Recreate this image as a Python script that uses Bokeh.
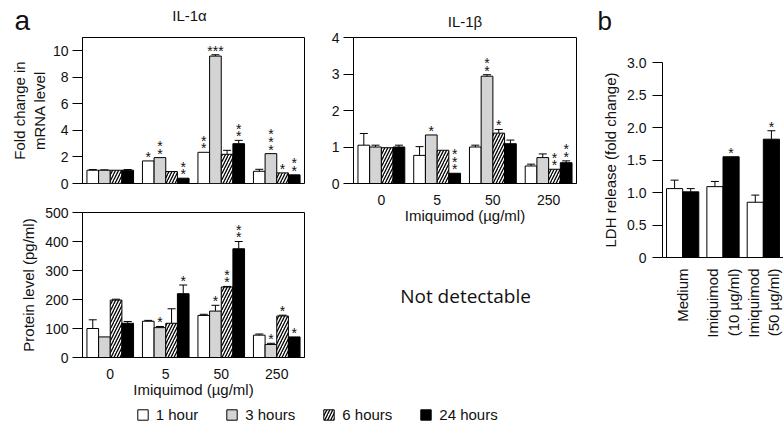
from bokeh.plotting import figure
from bokeh.layouts import row, column
from bokeh.models import (ColumnDataSource, FactorRange, Range1d, Whisker, TeeHead,
                          Label, Legend, LegendItem, FixedTicker, NumeralTickFormatter)
from bokeh.transform import dodge
from bokeh.core.properties import value
from bokeh.embed import file_html
from bokeh.resources import INLINE

# ---------------- data ----------------
DOSES = ["0", "5", "50", "250"]
SERIES_A = ["1 hour", "3 hours", "6 hours", "24 hours"]

# IL-1alpha mRNA fold change
IL1A_MRNA = {
    "1 hour":   [1.0, 1.70, 2.35, 0.92],
    "3 hours":  [1.0, 1.95, 9.60, 2.25],
    "6 hours":  [1.0, 0.90, 2.20, 0.80],
    "24 hours": [1.0, 0.40, 3.00, 0.65],
}
IL1A_MRNA_ERR = {
    "1 hour":   [0.05, 0.0, 0.0, 0.15],
    "3 hours":  [0.03, 0.0, 0.10, 0.0],
    "6 hours":  [0.0, 0.0, 0.30, 0.0],
    "24 hours": [0.05, 0.0, 0.25, 0.0],
}
IL1A_MRNA_STARS = {
    "1 hour":   ["", "*", "*\n*", ""],
    "3 hours":  ["", "*\n*", "***", "*\n*\n*"],
    "6 hours":  ["", "", "", "*"],
    "24 hours": ["", "*\n*", "*\n*", "*\n*"],
}
IL1A_MRNA_TICKS = [0, 2, 4, 6, 8, 10]

# IL-1beta mRNA fold change
IL1B_MRNA = {
    "1 hour":   [1.05, 0.77, 1.00, 0.48],
    "3 hours":  [1.00, 1.33, 2.94, 0.71],
    "6 hours":  [0.98, 0.91, 1.38, 0.39],
    "24 hours": [1.00, 0.28, 1.09, 0.57],
}
IL1B_MRNA_ERR = {
    "1 hour":   [0.32, 0.24, 0.05, 0.05],
    "3 hours":  [0.05, 0.0, 0.04, 0.10],
    "6 hours":  [0.0, 0.0, 0.10, 0.0],
    "24 hours": [0.05, 0.0, 0.10, 0.05],
}
IL1B_MRNA_STARS = {
    "1 hour":   ["", "", "", ""],
    "3 hours":  ["", "*", "*\n*", ""],
    "6 hours":  ["", "", "*", "*\n*"],
    "24 hours": ["", "*\n*\n*", "", "*\n*"],
}
IL1B_MRNA_TICKS = [0, 1, 2, 3, 4]

# IL-1alpha protein (pg/ml)
IL1A_PROT = {
    "1 hour":   [100, 125, 145, 77],
    "3 hours":  [71, 103, 160, 45],
    "6 hours":  [198, 118, 243, 143],
    "24 hours": [118, 220, 375, 71],
}
IL1A_PROT_ERR = {
    "1 hour":   [30, 3, 4, 4],
    "3 hours":  [0, 4, 20, 4],
    "6 hours":  [3, 50, 2, 3],
    "24 hours": [6, 30, 25, 0],
}
IL1A_PROT_STARS = {
    "1 hour":   ["", "", "", ""],
    "3 hours":  ["", "*", "*", "*"],
    "6 hours":  ["", "", "*\n*", "*"],
    "24 hours": ["", "*", "*\n*", "*"],
}
IL1A_PROT_TICKS = [0, 100, 200, 300, 400, 500]

# LDH release (panel b)
LDH_GROUPS = ["Medium", "Imiquimod\n(10 µg/ml)", "Imiquimod\n(50 µg/ml)"]
SERIES_B = ["6 hours", "24 hours"]
LDH = {
    "6 hours":  [1.06, 1.09, 0.85],
    "24 hours": [1.01, 1.55, 1.82],
}
LDH_ERR = {
    "6 hours":  [0.13, 0.08, 0.11],
    "24 hours": [0.05, 0.0, 0.13],
}
LDH_STARS = {
    "6 hours":  ["", "", ""],
    "24 hours": ["", "*", "*"],
}
LDH_TICKS = [0, 0.5, 1.0, 1.5, 2.0, 2.5, 3.0]

# ---------------- styles ----------------
FONT = "Liberation Sans"
TXT = "#111111"
BAR_STYLE = {
    "1 hour":   dict(fill_color="white"),
    "3 hours":  dict(fill_color="#d4d4d4"),
    "6 hours":  dict(fill_color="white", hatch_pattern="/", hatch_color="black",
                     hatch_scale=6, hatch_weight=1.3),
    "24 hours": dict(fill_color="black"),
}
BAR_STYLE_B = {
    "6 hours":  dict(fill_color="white"),
    "24 hours": dict(fill_color="black"),
}


def base_fig(width, height, x_range, y_range, ml, mr, mt, mb, outline=True):
    p = figure(width=width, height=height, x_range=x_range, y_range=y_range,
               toolbar_location=None, output_backend="svg",
               min_border_left=ml, min_border_right=mr,
               min_border_top=mt, min_border_bottom=mb)
    p.xgrid.visible = False
    p.ygrid.visible = False
    p.outline_line_color = "black" if outline else None
    p.background_fill_color = "white"
    p.border_fill_color = "white"
    return p


def blank_fig(width, height):
    p = figure(width=width, height=height, x_range=Range1d(0, 1), y_range=Range1d(0, 1),
               toolbar_location=None, output_backend="svg", min_border=0,
               x_axis_location=None, y_axis_location=None)
    p.xgrid.visible = False
    p.ygrid.visible = False
    p.outline_line_color = None
    p.border_fill_color = "white"
    return p


def style_y(p, ticks, label=None, fmt=None):
    ax = p.yaxis[0]
    ax.ticker = FixedTicker(ticks=ticks)
    ax.minor_tick_line_color = None
    ax.major_tick_out = 10
    ax.major_tick_in = 0
    ax.major_tick_line_color = "black"
    ax.axis_line_color = "black"
    ax.major_label_standoff = 4
    ax.major_label_text_font = FONT
    ax.major_label_text_font_size = "14px"
    ax.major_label_text_color = TXT
    if fmt is not None:
        ax.formatter = fmt
    if label:
        ax.axis_label = label
        ax.axis_label_text_font = FONT
        ax.axis_label_text_font_size = "15px"
        ax.axis_label_text_font_style = "normal"
        ax.axis_label_text_color = TXT
        ax.axis_label_standoff = 5


def style_x(p, label=None, font_size="14px"):
    ax = p.xaxis[0]
    ax.major_tick_line_color = None
    ax.minor_tick_line_color = None
    ax.axis_line_color = "black"
    ax.major_label_text_font = FONT
    ax.major_label_text_color = TXT
    ax.major_label_standoff = 5
    ax.major_label_text_font_size = font_size
    if label:
        ax.axis_label = label
        ax.axis_label_text_font = FONT
        ax.axis_label_text_font_size = "15px"
        ax.axis_label_text_font_style = "normal"
        ax.axis_label_text_color = TXT
        ax.axis_label_standoff = -1


def add_bars(p, groups, series, vals, errs, stars, styles, width):
    n = len(series)
    for i, s in enumerate(series):
        off = (i - (n - 1) / 2.0) * width
        x = dodge("grp", off, range=p.x_range)
        tops = vals[s]
        upper = [t + e for t, e in zip(tops, errs[s])]
        src = ColumnDataSource(dict(grp=groups, top=tops))
        p.vbar(x=x, top="top", width=width, source=src,
               line_color="black", line_width=1, **styles[s])
        keep = [k for k, e in enumerate(errs[s]) if e > 0]
        wsrc = ColumnDataSource(dict(grp=[groups[k] for k in keep],
                                     lower=[tops[k] for k in keep],
                                     upper=[upper[k] for k in keep]))
        p.add_layout(Whisker(base=dodge("grp", off, range=p.x_range), lower="lower",
                             upper="upper", source=wsrc, dimension="height",
                             line_color="black", line_width=1,
                             upper_head=TeeHead(size=8, line_color="black", line_width=1),
                             lower_head=None))
        marked = [k for k, t in enumerate(stars[s]) if t]
        ssrc = ColumnDataSource(dict(grp=[groups[k] for k in marked],
                                     upper=[upper[k] for k in marked],
                                     stars=[stars[s][k] for k in marked]))
        p.text(x=dodge("grp", off, range=p.x_range), y="upper", text="stars", source=ssrc,
               text_align="center", text_baseline="bottom", y_offset=4,
               text_font=value(FONT), text_font_size="14px", text_line_height=0.48,
               text_color=TXT)


def legend_fig(width, height, series, styles, loc, standoff, spacing):
    p = blank_fig(width, height)
    items = []
    for s in series:
        # legend swatch renderer; its single bar lies outside the visible range
        r = p.vbar(x=[0.5], bottom=[-3], top=[-2], width=0.1, line_color="black",
                   line_width=1, **styles[s])
        items.append(LegendItem(label=s, renderers=[r]))
    leg = Legend(items=items, orientation="horizontal", location=loc,
                 glyph_width=13, glyph_height=13, label_standoff=standoff,
                 spacing=spacing, padding=0, margin=0, border_line_color=None,
                 background_fill_alpha=0, label_text_font=FONT,
                 label_text_font_size="15px", label_text_color=TXT, label_height=13)
    p.add_layout(leg)
    return p


def txt_label(p, x, y, text, size, align="left", baseline="middle", font=FONT):
    p.add_layout(Label(x=x, y=y, x_units="screen", y_units="screen", text=text,
                       text_font=font, text_font_size=size, text_color=TXT,
                       text_align=align, text_baseline=baseline))


BW = 0.21

# ---- header of the left column: panel letter and IL-1alpha title ----
pTopA = blank_fig(318, 36)
txt_label(pTopA, 14, 1, "a", "28px", baseline="bottom")
txt_label(pTopA, 189, 21, "IL-1α", "15px", align="center")

# ---- panel a, IL-1alpha mRNA ----
pA1 = base_fig(318, 160, FactorRange(factors=DOSES), Range1d(0, 11), 82, 14, 1, 13)
add_bars(pA1, DOSES, SERIES_A, IL1A_MRNA, IL1A_MRNA_ERR, IL1A_MRNA_STARS, BAR_STYLE, BW)
style_y(pA1, IL1A_MRNA_TICKS, "Fold change in\nmRNA level")
pA1.yaxis[0].axis_label_standoff = 2
pA1.xaxis[0].visible = False

# ---- panel a, IL-1alpha protein ----
pA2 = base_fig(318, 208, FactorRange(factors=DOSES), Range1d(0, 500), 82, 14, 16, 47)
add_bars(pA2, DOSES, SERIES_A, IL1A_PROT, IL1A_PROT_ERR, IL1A_PROT_STARS, BAR_STYLE, BW)
style_y(pA2, IL1A_PROT_TICKS, "Protein level (pg/ml)")
style_x(pA2, label="Imiquimod (µg/ml)")

# ---- panel a, IL-1beta mRNA (with its own title) ----
pB1 = base_fig(272, 230, FactorRange(factors=DOSES), Range1d(0, 4), 35, 14, 37, 47)
pB1.title.text = "IL-1β"
pB1.title.align = "center"
pB1.title.offset = -4
pB1.title.standoff = 16
pB1.title.text_font = FONT
pB1.title.text_font_size = "15px"
pB1.title.text_font_style = "normal"
pB1.title.text_color = TXT
add_bars(pB1, DOSES, SERIES_A, IL1B_MRNA, IL1B_MRNA_ERR, IL1B_MRNA_STARS, BAR_STYLE, BW)
style_y(pB1, IL1B_MRNA_TICKS)
style_x(pB1, label="Imiquimod (µg/ml)")

# ---- panel a, IL-1beta protein: not detectable ----
# (this figure's frame is aligned with the IL-1beta frame above it, 35 px in)
pND = blank_fig(272, 174)
txt_label(pND, 112, 109, "Not detectable", "19px", align="center", font="Open Sans")

# ---- panel a legend ----
pLA = legend_fig(590, 23, SERIES_A, BAR_STYLE, (135.7, 4), 7, 27)

# ---- header of panel b ----
pTopB = blank_fig(193, 36)
txt_label(pTopB, 7, 1, "b", "26px", baseline="bottom")

# ---- panel b ----
pPB = base_fig(193, 331, FactorRange(factors=LDH_GROUPS), Range1d(0, 3), 72, 0, 26, 110,
               outline=False)
add_bars(pPB, LDH_GROUPS, SERIES_B, LDH, LDH_ERR, LDH_STARS, BAR_STYLE_B, 0.4)
style_y(pPB, LDH_TICKS, "LDH release (fold change)",
        fmt=NumeralTickFormatter(format="0.0"))
pPB.yaxis[0].major_label_overrides = {0: "0"}
pPB.yaxis[0].major_label_standoff = 6
style_x(pPB, font_size="15px")
pPB.xaxis[0].major_label_orientation = 3.14159265 / 2
pPB.xaxis[0].major_label_standoff = 5

# ---- panel b legend ----
pLB = legend_fig(193, 60, SERIES_B, BAR_STYLE_B, (25.7, 60.6), 4, 22)

layout = row(
    column(row(column(row(pTopA), pA1, pA2), column(pB1, pND)), pLA),
    column(row(pTopB), pPB, row(pLB)),
)

open("out.html", "w").write(file_html(layout, INLINE))
